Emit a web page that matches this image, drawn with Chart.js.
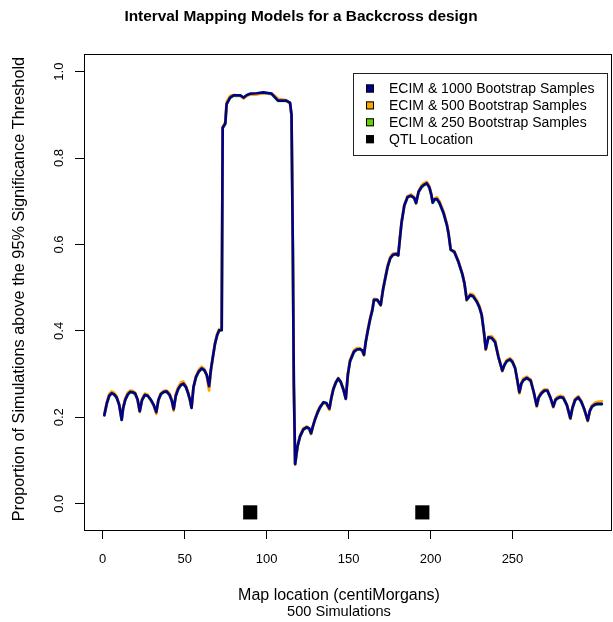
<!DOCTYPE html>
<html>
<head>
<meta charset="utf-8">
<title>Interval Mapping Models for a Backcross design</title>
<script src="https://cdn.jsdelivr.net/npm/chart.js@4.4.1/dist/chart.umd.min.js"></script>
<style>
    html, body { margin: 0; padding: 0; background: #ffffff; }
    #wrap { width: 613px; height: 622px; }
</style>
</head>
<body>
<div id="wrap"><canvas id="imChart" width="613" height="622"></canvas></div>
<script>
// Data (map position in cM, proportion of simulations)
const mapPositions = [
    1.0, 2.5, 4.0, 5.5, 7.0, 8.5, 10.0, 11.6, 12.5, 13.8,
    15.3, 16.8, 18.3, 19.8, 21.3, 22.6, 24.0, 25.7, 27.5, 29.5,
    31.2, 32.7, 34.0, 35.5, 37.3, 39.0, 40.8, 42.2, 43.3, 44.6,
    46.1, 47.7, 49.2, 50.8, 52.2, 53.3, 54.2, 55.4, 56.9, 58.6,
    60.4, 62.0, 63.5, 64.9, 66.0, 67.3, 68.5, 69.8, 71.0, 72.6,
    73.2, 74.8, 75.6, 77.7, 79.8, 84.0, 86.0, 88.0, 90.0, 94.0,
    98.0, 103.0, 105.0, 107.0, 112.0, 114.3, 115.2, 116.0, 116.6, 117.4,
    118.2, 119.0, 120.4, 122.4, 124.5, 126.0, 127.1, 128.3, 129.6, 131.2,
    132.7, 134.7, 136.5, 138.3, 139.5, 140.7, 142.2, 143.7, 145.2, 146.8,
    148.3, 149.6, 150.9, 153.3, 155.0, 156.9, 158.3, 159.4, 160.5, 161.7,
    163.2, 164.5, 165.5, 167.5, 169.6, 171.0, 172.3, 173.8, 175.4, 177.0,
    178.9, 180.3, 181.4, 182.3, 184.0, 186.0, 188.0, 190.0, 191.2, 192.7,
    194.5, 196.0, 197.7, 199.3, 200.5, 201.3, 202.7, 204.0, 205.5, 208.0,
    210.0, 211.0, 212.3, 214.5, 217.0, 219.5, 220.7, 222.1, 224.3, 226.0,
    228.2, 229.8, 231.2, 232.6, 233.7, 235.3, 237.3, 239.4, 241.4, 243.8,
    245.2, 246.5, 248.5, 250.0, 251.6, 253.0, 254.2, 255.4, 256.6, 258.7,
    261.1, 263.0, 264.8, 266.0, 267.5, 269.5, 271.3, 273.2, 274.9, 276.2,
    277.4, 279.2, 281.0, 283.2, 285.3, 286.6, 288.2, 290.2, 292.0, 293.7,
    295.9, 297.2, 298.5, 300.4, 302.0, 304.5
];

const ecim1000 = [
    0.205, 0.232, 0.250, 0.256, 0.253, 0.246, 0.230, 0.194, 0.222, 0.241,
    0.253, 0.259, 0.258, 0.255, 0.241, 0.214, 0.240, 0.252, 0.250, 0.240,
    0.228, 0.212, 0.240, 0.254, 0.259, 0.260, 0.252, 0.238, 0.219, 0.250,
    0.266, 0.275, 0.278, 0.270, 0.255, 0.240, 0.222, 0.270, 0.293, 0.306,
    0.313, 0.309, 0.298, 0.272, 0.310, 0.342, 0.370, 0.390, 0.401, 0.402,
    0.870, 0.880, 0.925, 0.940, 0.945, 0.945, 0.940, 0.946, 0.949, 0.950,
    0.952, 0.949, 0.941, 0.933, 0.933, 0.928, 0.900, 0.590, 0.280, 0.092,
    0.115, 0.135, 0.156, 0.172, 0.177, 0.174, 0.163, 0.180, 0.196, 0.212,
    0.224, 0.235, 0.233, 0.220, 0.245, 0.265, 0.280, 0.290, 0.282, 0.265,
    0.243, 0.300, 0.330, 0.352, 0.357, 0.358, 0.355, 0.345, 0.375, 0.400,
    0.428, 0.448, 0.472, 0.472, 0.460, 0.495, 0.520, 0.548, 0.568, 0.576,
    0.578, 0.575, 0.617, 0.650, 0.690, 0.710, 0.713, 0.708, 0.696, 0.722,
    0.733, 0.738, 0.742, 0.732, 0.715, 0.697, 0.705, 0.705, 0.696, 0.672,
    0.645, 0.625, 0.588, 0.583, 0.560, 0.530, 0.510, 0.472, 0.483, 0.480,
    0.468, 0.455, 0.437, 0.397, 0.358, 0.385, 0.384, 0.374, 0.340, 0.308,
    0.322, 0.330, 0.334, 0.328, 0.314, 0.285, 0.258, 0.278, 0.286, 0.291,
    0.285, 0.258, 0.227, 0.246, 0.255, 0.262, 0.262, 0.245, 0.225, 0.240,
    0.244, 0.247, 0.245, 0.228, 0.198, 0.222, 0.240, 0.246, 0.236, 0.220,
    0.193, 0.215, 0.225, 0.230, 0.231, 0.231
];

const ecim500 = [
    0.207, 0.235, 0.254, 0.260, 0.257, 0.249, 0.231, 0.196, 0.224, 0.244,
    0.257, 0.262, 0.261, 0.257, 0.240, 0.212, 0.243, 0.255, 0.252, 0.238,
    0.226, 0.208, 0.242, 0.256, 0.261, 0.262, 0.255, 0.240, 0.215, 0.254,
    0.270, 0.281, 0.283, 0.273, 0.256, 0.238, 0.222, 0.271, 0.296, 0.310,
    0.317, 0.312, 0.296, 0.262, 0.306, 0.342, 0.372, 0.393, 0.404, 0.405,
    0.872, 0.884, 0.930, 0.944, 0.946, 0.944, 0.938, 0.944, 0.947, 0.947,
    0.950, 0.950, 0.944, 0.937, 0.934, 0.926, 0.898, 0.588, 0.278, 0.090,
    0.114, 0.137, 0.159, 0.175, 0.179, 0.175, 0.161, 0.179, 0.198, 0.215,
    0.226, 0.234, 0.230, 0.217, 0.247, 0.268, 0.282, 0.291, 0.283, 0.267,
    0.243, 0.302, 0.333, 0.355, 0.360, 0.360, 0.354, 0.343, 0.377, 0.404,
    0.431, 0.451, 0.474, 0.473, 0.459, 0.497, 0.523, 0.552, 0.571, 0.579,
    0.580, 0.576, 0.618, 0.652, 0.692, 0.712, 0.716, 0.710, 0.697, 0.723,
    0.737, 0.742, 0.745, 0.735, 0.716, 0.698, 0.707, 0.709, 0.700, 0.676,
    0.648, 0.626, 0.588, 0.585, 0.562, 0.532, 0.509, 0.471, 0.486, 0.484,
    0.471, 0.458, 0.439, 0.396, 0.356, 0.387, 0.388, 0.378, 0.342, 0.307,
    0.324, 0.333, 0.337, 0.331, 0.315, 0.283, 0.255, 0.280, 0.290, 0.294,
    0.288, 0.257, 0.224, 0.248, 0.258, 0.265, 0.264, 0.245, 0.223, 0.243,
    0.247, 0.250, 0.248, 0.229, 0.196, 0.224, 0.243, 0.249, 0.238, 0.219,
    0.191, 0.217, 0.228, 0.234, 0.236, 0.237
];

const ecim250 = [
    0.204, 0.231, 0.249, 0.255, 0.252, 0.245, 0.229, 0.194, 0.221, 0.240,
    0.252, 0.258, 0.257, 0.254, 0.240, 0.214, 0.239, 0.251, 0.249, 0.239,
    0.227, 0.212, 0.239, 0.253, 0.258, 0.259, 0.251, 0.237, 0.219, 0.249,
    0.265, 0.274, 0.277, 0.269, 0.254, 0.239, 0.222, 0.269, 0.292, 0.305,
    0.312, 0.308, 0.297, 0.272, 0.309, 0.341, 0.369, 0.389, 0.400, 0.401,
    0.869, 0.879, 0.924, 0.939, 0.944, 0.944, 0.939, 0.945, 0.948, 0.949,
    0.951, 0.948, 0.940, 0.932, 0.932, 0.927, 0.899, 0.589, 0.279, 0.092,
    0.114, 0.134, 0.155, 0.171, 0.176, 0.173, 0.162, 0.179, 0.195, 0.211,
    0.223, 0.234, 0.232, 0.219, 0.244, 0.264, 0.279, 0.289, 0.281, 0.264,
    0.242, 0.299, 0.329, 0.351, 0.356, 0.357, 0.354, 0.344, 0.374, 0.399,
    0.427, 0.447, 0.471, 0.471, 0.459, 0.494, 0.519, 0.547, 0.567, 0.575,
    0.577, 0.574, 0.616, 0.649, 0.689, 0.709, 0.712, 0.707, 0.695, 0.721,
    0.732, 0.737, 0.741, 0.731, 0.714, 0.696, 0.704, 0.704, 0.695, 0.671,
    0.644, 0.624, 0.587, 0.582, 0.559, 0.529, 0.509, 0.471, 0.482, 0.479,
    0.467, 0.454, 0.436, 0.396, 0.357, 0.384, 0.383, 0.373, 0.339, 0.307,
    0.321, 0.329, 0.333, 0.327, 0.313, 0.284, 0.257, 0.277, 0.285, 0.290,
    0.284, 0.257, 0.226, 0.245, 0.254, 0.261, 0.261, 0.244, 0.224, 0.239,
    0.243, 0.246, 0.244, 0.227, 0.197, 0.221, 0.239, 0.245, 0.235, 0.219,
    0.192, 0.214, 0.224, 0.229, 0.230, 0.230
];

// QTL locations (drawn as black squares just under zero)
const qtlPositions = [90, 195];
const qtlLevels = [-0.02, -0.02];

// Axis ticks
const xTicks = [0, 50, 100, 150, 200, 250];
const yTicks = [0, 0.2, 0.4, 0.6, 0.8, 1.0];

// Legend entries
const legendLabels = ['ECIM & 1000 Bootstrap Samples', 'ECIM & 500 Bootstrap Samples', 'ECIM & 250 Bootstrap Samples', 'QTL Location'];
const legendColors = ['#00008B', '#FFA500', '#66CD00', '#000000'];

const fontFamily = '"Liberation Sans", Arial, Helvetica, sans-serif';

// helper to pair positions with values
function toPoints(xs, ys) {
    return xs.map((x, i) => ({ x: x, y: ys[i] }));
}

// Plugin that draws the R-style extras: frame, rotated y labels, titles and legend
const rStylePlugin = {
    id: 'rStyle',
    afterDraw(chart) {
        const ctx = chart.ctx;
        const area = chart.chartArea;
        const yScale = chart.scales.y;
        ctx.save();

        // plot frame
        ctx.strokeStyle = '#000';
        ctx.lineWidth = 1;
        ctx.strokeRect(Math.round(area.left) + 0.5, Math.round(area.top) + 0.5,
            Math.round(area.right - area.left), Math.round(area.bottom - area.top));

        // y tick labels, rotated like R's default
        ctx.fillStyle = '#000';
        ctx.font = '13px ' + fontFamily;
        ctx.textAlign = 'center';
        ctx.textBaseline = 'middle';
        yTicks.forEach(v => {
            const py = yScale.getPixelForValue(v);
            ctx.save();
            ctx.translate(59, py);
            ctx.rotate(-Math.PI / 2);
            ctx.fillText(v.toFixed(1), 0, 0);
            ctx.restore();
        });

        // main title
        ctx.font = 'bold 15.4px ' + fontFamily;
        ctx.fillText('Interval Mapping Models for a Backcross design', 301, 17);

        // x axis title + sub title
        ctx.font = '16px ' + fontFamily;
        ctx.fillText('Map location (centiMorgans)', 339, 596);
        ctx.font = '14.6px ' + fontFamily;
        ctx.fillText('500 Simulations', 339, 612);

        // y axis title
        ctx.save();
        ctx.font = '16.3px ' + fontFamily;
        ctx.translate(20, 289);
        ctx.rotate(-Math.PI / 2);
        ctx.fillText('Proportion of Simulations above the 95% Significance Threshold', 0, 0);
        ctx.restore();

        // legend box
        ctx.fillStyle = '#fff';
        ctx.fillRect(353, 73, 255, 82);
        ctx.strokeStyle = '#222';
        ctx.strokeRect(353.5, 73.5, 254, 82);
        ctx.font = '14px ' + fontFamily;
        ctx.textAlign = 'left';
        legendLabels.forEach((label, i) => {
            const cy = 88.5 + i * 16.9;
            ctx.fillStyle = legendColors[i];
            ctx.fillRect(366, cy - 4, 8, 8);
            ctx.strokeStyle = '#000';
            ctx.strokeRect(366.5, cy - 3.5, 7, 7);
            ctx.fillStyle = '#000';
            ctx.fillText(label, 389, cy + 1);
        });

        ctx.restore();
    }
};

const ctx = document.getElementById('imChart').getContext('2d');
const imChart = new Chart(ctx, {
    type: 'line',
    data: {
        datasets: [
            {
                label: 'ECIM & 1000 Bootstrap Samples',
                data: toPoints(mapPositions, ecim1000),
                borderColor: '#00008B',
                borderWidth: 2.7,
                pointRadius: 0,
                tension: 0,
                borderCapStyle: 'round',
                borderJoinStyle: 'round'
            },
            {
                label: 'ECIM & 500 Bootstrap Samples',
                data: toPoints(mapPositions, ecim500),
                borderColor: '#FFA500',
                borderWidth: 2.7,
                pointRadius: 0,
                tension: 0,
                borderCapStyle: 'round',
                borderJoinStyle: 'round'
            },
            {
                label: 'ECIM & 250 Bootstrap Samples',
                data: toPoints(mapPositions, ecim250),
                borderColor: '#66CD00',
                borderWidth: 2.7,
                pointRadius: 0,
                tension: 0,
                borderCapStyle: 'round',
                borderJoinStyle: 'round'
            },
            {
                label: 'QTL Location',
                data: toPoints(qtlPositions, qtlLevels),
                showLine: false,
                pointStyle: 'rect',
                pointRadius: 10,
                pointBorderWidth: 0,
                pointBackgroundColor: '#000',
                borderColor: '#000'
            }
        ]
    },
    options: {
        responsive: false,
        animation: false,
        devicePixelRatio: 1,
        layout: {
            autoPadding: false, // otherwise the point radius eats into the right edge
            padding: { top: 54, right: 2, left: 0, bottom: 0 }
        },
        scales: {
            x: {
                type: 'linear',
                min: -11.4,
                max: 310.1,
                afterBuildTicks: scale => { scale.ticks = xTicks.map(v => ({ value: v })); },
                afterFit: scale => {
                    scale.height = 92;
                    scale.paddingLeft = 0;
                    scale.paddingRight = 0;
                },
                border: { display: false },
                grid: { drawOnChartArea: false, drawTicks: true, tickLength: 9, color: '#000', lineWidth: 1 },
                ticks: {
                    color: '#000',
                    font: { family: fontFamily, size: 13 },
                    padding: 13,
                    maxRotation: 0,
                    autoSkip: false
                }
            },
            y: {
                type: 'linear',
                min: -0.0608,
                max: 1.0408,
                afterBuildTicks: scale => { scale.ticks = yTicks.map(v => ({ value: v })); },
                afterFit: scale => {
                    scale.width = 84;
                    scale.paddingTop = 0;
                    scale.paddingBottom = 0;
                },
                border: { display: false },
                grid: { drawOnChartArea: false, drawTicks: true, tickLength: 9, color: '#000', lineWidth: 1 },
                ticks: { display: false }
            }
        },
        plugins: {
            legend: { display: false },
            title: { display: false },
            tooltip: { enabled: false }
        }
    },
    plugins: [rStylePlugin]
});
</script>
</body>
</html>
